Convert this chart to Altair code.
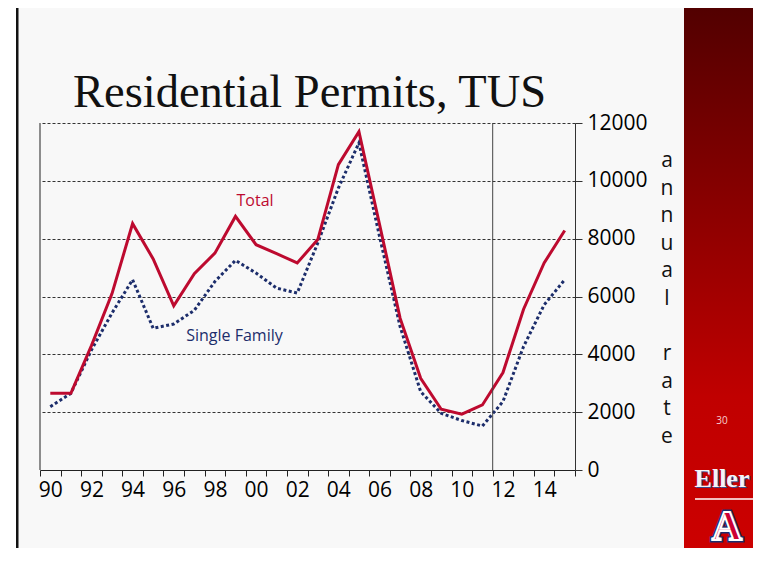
import altair as alt
import pandas as pd

years = ["90","91","92","93","94","95","96","97","98","99","00","01","02",
         "03","04","05","06","07","08","09","10","11","12","13","14","15"]
total = [2650,2650,4300,6100,8520,7300,5680,6790,7500,8770,7790,7480,7160,
         7970,10560,11700,8500,5250,3170,2100,1930,2250,3370,5560,7160,8280]
single = [2190,2650,4150,5430,6580,4900,5050,5520,6520,7250,6810,6290,6120,
          7850,9750,11310,8080,4960,2710,1960,1710,1520,2370,4270,5710,6580]
y_ticks = [0, 2000, 4000, 6000, 8000, 10000, 12000]
title_text = "Residential Permits, TUS"
side_word1 = ["a", "n", "n", "u", "a", "l"]
side_word2 = ["r", "a", "t", "e"]
marker_year = ["12"]

W, H = 535, 347
RED = "#bd0a2f"
NAVY = "#1c2d6b"
FONT = "Open Sans"
LH = 27.6

df = pd.DataFrame({"year": years, "total": total, "single": single})
one = pd.DataFrame({"a": [0]})

xs = alt.Scale(domain=years, paddingInner=0, paddingOuter=0)
ys = alt.Scale(domain=[0, 12000], nice=False)

x_enc = alt.X("year:O", scale=xs, title=None,
              axis=alt.Axis(orient="bottom", tickBand="extent", labelAngle=0,
                            labelExpr="parseInt(datum.value) % 2 == 0 ? datum.value : ''",
                            labelFontSize=21, labelFont=FONT, labelColor="#000",
                            labelPadding=3, tickSize=6, tickColor="#222",
                            domainColor="#222", grid=False))
y_enc = alt.Y("v:Q", scale=ys, title=None,
              axis=alt.Axis(orient="right", values=y_ticks, format="d",
                            labelFontSize=21, labelFont=FONT, labelColor="#000",
                            labelPadding=5, tickSize=7, tickColor="#333",
                            domainColor="#333", grid=True, gridColor="#333",
                            gridDash=[3, 2], gridWidth=1))

base = alt.Chart(df)

single_line = base.transform_calculate(v="datum.single").mark_line(
    color=NAVY, strokeWidth=3, strokeDash=[3, 2.5], strokeCap="butt"
).encode(x=x_enc, y=y_enc)

total_line = base.transform_calculate(v="datum.total").mark_line(
    color=RED, strokeWidth=3
).encode(x=alt.X("year:O", scale=xs), y=alt.Y("v:Q", scale=ys))

left_edge = alt.Chart(one).mark_rule(color="#222", strokeWidth=1).encode(
    x=alt.value(0), y=alt.value(0), y2=alt.value(H))

vrule = alt.Chart(pd.DataFrame({"year": marker_year})).mark_rule(
    color="#444", strokeWidth=1
).encode(x=alt.X("year:O", scale=xs, bandPosition=0), y=alt.value(0), y2=alt.value(H))

lab_total = alt.Chart(pd.DataFrame({"year": ["00"], "v": [9120], "t": ["Total"]})).mark_text(
    color=RED, fontSize=16, font=FONT, baseline="alphabetic", dx=-1
).encode(x=alt.X("year:O", scale=xs), y=alt.Y("v:Q", scale=ys), text="t:N")

lab_single = alt.Chart(pd.DataFrame({"year": ["99"], "v": [4478], "t": ["Single Family"]})).mark_text(
    color=NAVY, fontSize=16, font=FONT, baseline="alphabetic", dx=-1
).encode(x=alt.X("year:O", scale=xs), y=alt.Y("v:Q", scale=ys), text="t:N")

# slide decorations
white_strip = alt.Chart(one).mark_rect(color="white").encode(
    x=alt.value(-32), x2=alt.value(-24), y=alt.value(-115), y2=alt.value(425))
black_border = alt.Chart(one).mark_rect(color="#111").encode(
    x=alt.value(-24), x2=alt.value(-21.5), y=alt.value(-115), y2=alt.value(425))
sidebar = alt.Chart(one).mark_rect(
    fill=alt.Gradient(gradient="linear", x1=0, x2=0, y1=0, y2=1,
                      stops=[alt.GradientStop(color="#520000", offset=0),
                             alt.GradientStop(color="#c00000", offset=0.72),
                             alt.GradientStop(color="#cc0000", offset=1)])
).encode(x=alt.value(644), x2=alt.value(713), y=alt.value(-115), y2=alt.value(425))

title = alt.Chart(one).mark_text(
    text=title_text, font="Liberation Serif", fontSize=46.5, align="left",
    baseline="alphabetic", color="#111"
).encode(x=alt.value(33), y=alt.value(-16))

side1 = alt.Chart(one).mark_text(
    text=side_word1, font=FONT, fontSize=21, align="center",
    baseline="alphabetic", lineHeight=LH, color="#111"
).encode(x=alt.value(627), y=alt.value(44))
side2 = alt.Chart(one).mark_text(
    text=side_word2, font=FONT, fontSize=21, align="center",
    baseline="alphabetic", lineHeight=LH, color="#111"
).encode(x=alt.value(627), y=alt.value(44 + 7 * LH))

page_no = alt.Chart(one).mark_text(
    text="30", font=FONT, fontSize=10, color="#f6d0d0", baseline="middle"
).encode(x=alt.value(682), y=alt.value(298))

eller_shadow = alt.Chart(one).mark_text(
    text="Eller", font="Liberation Serif", fontWeight="bold", fontSize=26,
    color="#3a4a8a", baseline="alphabetic"
).encode(x=alt.value(683.3), y=alt.value(365.3))
eller = alt.Chart(one).mark_text(
    text="Eller", font="Liberation Serif", fontWeight="bold", fontSize=26,
    color="#f4f4f8", baseline="alphabetic"
).encode(x=alt.value(682), y=alt.value(364))
eller_line = alt.Chart(one).mark_rule(color="white", strokeWidth=1.5).encode(
    x=alt.value(655), x2=alt.value(713), y=alt.value(376))

a_outer = alt.Chart(one).mark_text(
    text="A", font="Liberation Serif", fontWeight="bold", fontSize=42,
    color=NAVY, stroke=NAVY, strokeWidth=5, baseline="alphabetic"
).encode(x=alt.value(687), y=alt.value(417))
a_inner = alt.Chart(one).mark_text(
    text="A", font="Liberation Serif", fontWeight="bold", fontSize=42,
    color="#cc0033", stroke="white", strokeWidth=2, baseline="alphabetic"
).encode(x=alt.value(687), y=alt.value(417))

chart = alt.layer(
    white_strip, black_border, sidebar,
    single_line, total_line, left_edge, vrule, lab_total, lab_single,
    title, side1, side2, page_no, eller_shadow, eller, eller_line, a_outer, a_inner
).properties(
    width=W, height=H,
    autosize=alt.AutoSizeParams(type="none"),
    padding={"left": 32, "top": 115, "right": 178, "bottom": 78},
    background="#f8f8f8"
).configure_view(stroke=None)

chart.save("out.html", embed_options={"renderer": "svg", "actions": False})
